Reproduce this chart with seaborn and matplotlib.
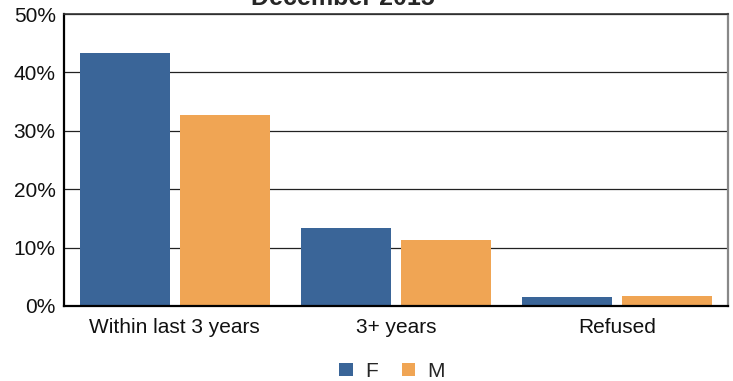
import pandas as pd
import matplotlib
matplotlib.use("Agg")
import matplotlib.pyplot as plt
import seaborn as sns
from matplotlib.ticker import PercentFormatter

categories = ["Within last 3 years", "3+ years", "Refused"]
f_values = [43.3, 13.4, 1.5]
m_values = [32.7, 11.3, 1.7]
groups = ["F", "M"]
colors = ["#3A6598", "#F0A554"]

df = pd.DataFrame({
    "category": categories * 2,
    "value": f_values + m_values,
    "sex": ["F"] * 3 + ["M"] * 3,
})

sns.set_theme(style="white")
plt.rcParams["font.family"] = ["Liberation Sans", "DejaVu Sans"]

fig = plt.figure(figsize=(7.33, 3.81), dpi=100)
ax = fig.add_axes([0.0873, 0.197, 0.9057, 0.766])

sns.barplot(data=df, x="category", y="value", hue="sex", hue_order=groups,
            palette=colors, width=0.905, gap=0.1, saturation=1, ax=ax,
            edgecolor="none", linewidth=0)

ax.set_ylim(0, 50)
ax.set_xlim(-0.5, 2.5)
ax.set_yticks(range(0, 51, 10))
ax.yaxis.set_major_formatter(PercentFormatter(decimals=0))
ax.yaxis.grid(True, color="#222222", linewidth=0.9)
ax.set_axisbelow(True)
ax.tick_params(axis="both", length=0, labelsize=15, colors="#111111")
ax.tick_params(axis="x", pad=9)
ax.tick_params(axis="y", pad=6)
ax.set_xlabel("")
ax.set_ylabel("")

for side in ["left", "bottom"]:
    ax.spines[side].set_color("black")
    ax.spines[side].set_linewidth(1.6)
ax.spines["top"].set_color("#333333")
ax.spines["top"].set_linewidth(1.2)
ax.spines["right"].set_color("#888888")
ax.spines["right"].set_linewidth(1.6)

handles, labels = ax.get_legend_handles_labels()
ax.legend(handles, labels, loc="center", bbox_to_anchor=(0.4945, -0.224),
          ncol=2, frameon=False, fontsize=15, handlelength=0.65, handleheight=0.65,
          columnspacing=1.12, handletextpad=0.6)

fig.text(0.468, 1 - 5 / 381, "December 2015", ha="center", va="baseline",
         fontsize=18, fontweight="bold")

fig.savefig("out.png", dpi=100)
